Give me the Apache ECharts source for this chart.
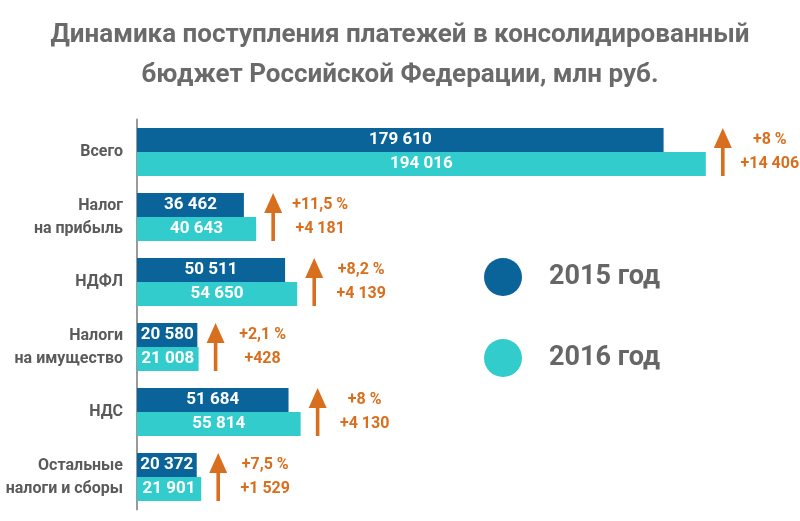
<!DOCTYPE html>
<html>
<head>
<meta charset="utf-8">
<script src="https://cdn.jsdelivr.net/npm/echarts@6/dist/echarts.min.js"></script>
<style>
html,body{margin:0;padding:0;background:#fff;}
#c{width:800px;height:521px;}
</style>
</head>
<body>
<div id="c"></div>
<script>
var categories = ['Всего', 'Налог\nна прибыль', 'НДФЛ', 'Налоги\nна имущество', 'НДС', 'Остальные\nналоги и сборы'];
var values2015 = [179610, 36462, 50511, 20580, 51684, 20372];
var values2016 = [194016, 40643, 54650, 21008, 55814, 21901];
var growthPct = ['+8 %', '+11,5 %', '+8,2 %', '+2,1 %', '+8 %', '+7,5 %'];
var growthAbs = ['+14 406', '+4 181', '+4 139', '+428', '+4 130', '+1 529'];
var seriesNames = ['2015 год', '2016 год'];

var FONT = 'Roboto, "Liberation Sans", sans-serif';
var ORANGE = '#d86f1e';

function fmt(v) {
  return String(v).replace(/\B(?=(\d{3})+(?!\d))/g, ' ');
}

var arrowData = categories.map(function (c, i) {
  return [Math.max(values2015[i], values2016[i]), i];
});

var chart = echarts.init(document.getElementById('c'));
chart.setOption({
  animation: false,
  backgroundColor: '#fff',
  textStyle: { fontFamily: FONT },
  title: {
    text: 'Динамика поступления платежей в консолидированный\nбюджет Российской Федерации, млн руб.',
    left: 'center',
    top: 10,
    textStyle: {
      fontFamily: FONT, fontSize: 26, fontWeight: 'bold', color: '#6a6a6a', lineHeight: 40
    }
  },
  legend: {
    orient: 'vertical',
    left: 479,
    top: 253,
    itemWidth: 38,
    itemHeight: 38,
    itemGap: 43,
    icon: 'circle',
    data: seriesNames,
    textStyle: { fontFamily: FONT, fontSize: 27, fontWeight: 'bold', color: '#666', padding: [0, 0, 0, 22] }
  },
  grid: { left: 137, top: 119.5, height: 390, width: 645, containLabel: false, outerBoundsMode: 'none' },
  xAxis: {
    type: 'value', min: 0, max: 220000, show: false
  },
  yAxis: {
    type: 'category',
    inverse: true,
    data: categories,
    axisTick: { show: false },
    axisLine: { show: true, lineStyle: { color: '#9a9a9a', width: 2 } },
    axisLabel: {
      fontFamily: FONT, fontSize: 16, fontWeight: 'bold', color: '#5a5a5a',
      lineHeight: 23, margin: 14, align: 'right'
    }
  },
  series: [
    {
      name: seriesNames[0], type: 'bar', data: values2015, barWidth: 24, barGap: '0%',
      itemStyle: { color: '#0a6399' },
      label: { show: true, position: 'inside', color: '#fff', fontFamily: FONT, fontSize: 17, fontWeight: 'bold',
        formatter: function (p) { return fmt(p.value); } }
    },
    {
      name: seriesNames[1], type: 'bar', data: values2016, barWidth: 24, barGap: '0%',
      itemStyle: { color: '#33cccc' },
      label: { show: true, position: 'inside', color: '#fff', fontFamily: FONT, fontSize: 17, fontWeight: 'bold',
        formatter: function (p) { return fmt(p.value); } }
    },
    {
      type: 'custom',
      data: arrowData,
      silent: true,
      z: 10,
      renderItem: function (params, api) {
        var pt = api.coord([api.value(0), api.value(1)]);
        var x = pt[0] + 17;
        var y = pt[1];
        var top = y - 24, bot = y + 24;
        var tx = pt[0] + 64;
        var i = params.dataIndex;
        return {
          type: 'group',
          children: [
            { type: 'rect', shape: { x: x - 1.8, y: top + 14, width: 3.6, height: bot - top - 14 }, style: { fill: ORANGE } },
            { type: 'polygon', shape: { points: [[x - 9, top + 20], [x, top], [x + 9, top + 20]] }, style: { fill: ORANGE } },
            { type: 'text', style: { text: growthPct[i], x: tx, y: y - 12, align: 'center', verticalAlign: 'middle',
                fill: ORANGE, font: 'bold 16px ' + FONT } },
            { type: 'text', style: { text: growthAbs[i], x: tx, y: y + 12, align: 'center', verticalAlign: 'middle',
                fill: ORANGE, font: 'bold 16px ' + FONT } }
          ]
        };
      }
    }
  ]
});
</script>
</body>
</html>
